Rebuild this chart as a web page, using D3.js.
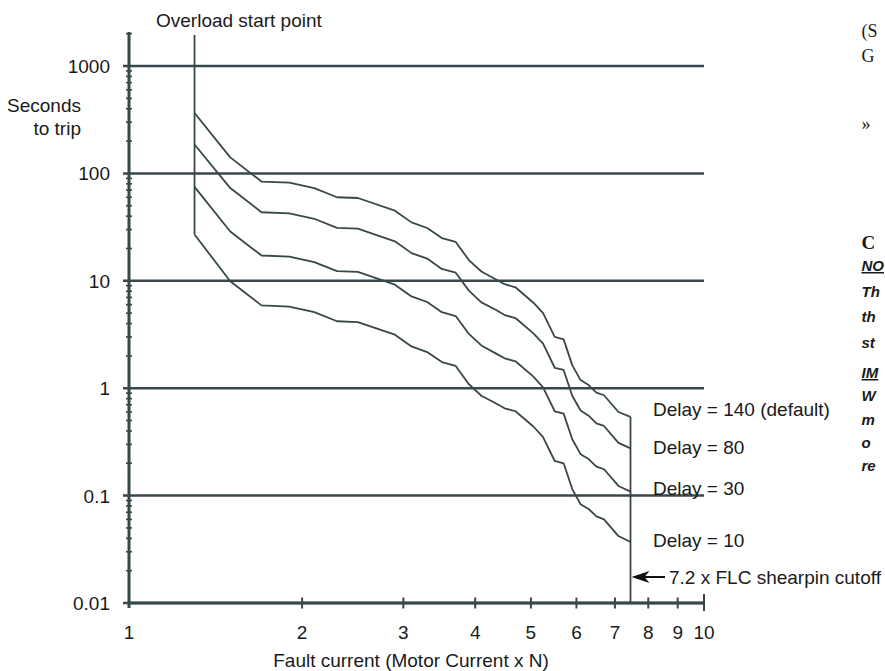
<!DOCTYPE html>
<html>
<head>
<meta charset="utf-8">
<script src="https://cdn.jsdelivr.net/npm/d3@7"></script>
<style>
  body { margin: 0; background: #fff; }
  svg text { font-family: "Liberation Sans", Arial, sans-serif; fill: #1a1a1a; }
</style>
</head>
<body>
<div id="chart"></div>
<script>
// fault current (x FLC) at each vertex of the trip curves
var current = [1.3, 1.5, 1.7, 1.9, 2.1, 2.3, 2.5, 2.9, 3.1, 3.3, 3.5, 3.7, 3.9, 4.1, 4.35, 4.5, 4.7, 5.05, 5.25, 5.5, 5.7, 5.9, 6.1, 6.3, 6.5, 6.7, 7.1, 7.45];

// seconds to trip for each delay setting
var delay140 = [365, 141, 84, 82, 73, 60, 59, 45, 35, 31, 25, 23, 15.6, 12.2, 10.3, 9.3, 8.7, 6.25, 5.0, 3.0, 2.85, 1.64, 1.19, 1.07, 0.91, 0.86, 0.60, 0.54];
var delay80 = [186, 73, 43.5, 42.5, 37.8, 31.1, 30.6, 23.3, 18.1, 16.1, 12.9, 11.9, 8.1, 6.3, 5.35, 4.8, 4.5, 3.24, 2.6, 1.55, 1.48, 0.85, 0.62, 0.555, 0.47, 0.445, 0.31, 0.275];
var delay30 = [75, 28.8, 17.2, 16.8, 14.9, 12.3, 12.1, 9.2, 7.15, 6.35, 5.1, 4.7, 3.2, 2.5, 2.1, 1.9, 1.78, 1.28, 1.02, 0.61, 0.58, 0.335, 0.243, 0.219, 0.186, 0.176, 0.123, 0.109];
var delay10 = [27, 9.9, 5.9, 5.75, 5.1, 4.2, 4.13, 3.15, 2.45, 2.17, 1.75, 1.61, 1.09, 0.85, 0.72, 0.65, 0.61, 0.44, 0.35, 0.21, 0.2, 0.115, 0.083, 0.075, 0.064, 0.06, 0.042, 0.037];

var delayNames = ["Delay = 140 (default)", "Delay = 80", "Delay = 30", "Delay = 10"];

var yMajor = [0.01, 0.1, 1, 10, 100, 1000];
var yLabels = ["0.01", "0.1", "1", "10", "100", "1000"];
var xTicks = [2, 3, 4, 5, 6, 7, 8, 9];
var xLabels = [1, 2, 3, 4, 5, 6, 7, 8, 9, 10];

var overloadStart = 1.3, overloadTop = 1945;
var cutoff = 7.45;
var yAxisTop = 2070;

var color = "#37474a";
var fs = "19px";

var svg = d3.select("#chart")
  .append("svg")
    .attr("width", 885)
    .attr("height", 671);

var x = d3.scaleLog().domain([1, 10]).range([129, 704]);
var y = d3.scaleLog().domain([0.01, 1000]).range([603, 66]);

// horizontal grid lines at each decade
svg.append("g")
  .selectAll("line")
  .data(yMajor)
  .enter()
  .append("line")
    .attr("x1", x(1) - 6)
    .attr("x2", x(10))
    .attr("y1", function (d) { return y(d); })
    .attr("y2", function (d) { return y(d); })
    .attr("stroke", color)
    .attr("stroke-width", 2.5);

// minor ticks on the y axis
var yMinor = [];
yMajor.slice(0, 5).forEach(function (m) {
  for (var k = 2; k <= 9; k++) yMinor.push(m * k);
});
yMinor.push(2000);
svg.append("g")
  .selectAll("line")
  .data(yMinor)
  .enter()
  .append("line")
    .attr("x1", x(1) - 3)
    .attr("x2", x(1) + 3)
    .attr("y1", function (d) { return y(d); })
    .attr("y2", function (d) { return y(d); })
    .attr("stroke", color)
    .attr("stroke-width", 1.6);

// y axis line
svg.append("line")
  .attr("x1", x(1)).attr("x2", x(1))
  .attr("y1", y(yAxisTop)).attr("y2", y(0.01) + 5)
  .attr("stroke", color)
  .attr("stroke-width", 3);

// x axis line and ticks
svg.append("line")
  .attr("x1", x(1)).attr("x2", x(10))
  .attr("y1", y(0.01)).attr("y2", y(0.01))
  .attr("stroke", color)
  .attr("stroke-width", 3);

svg.append("g")
  .selectAll("line")
  .data(xTicks)
  .enter()
  .append("line")
    .attr("x1", function (d) { return x(d); })
    .attr("x2", function (d) { return x(d); })
    .attr("y1", y(0.01) - 5.5)
    .attr("y2", y(0.01) + 5.5)
    .attr("stroke", color)
    .attr("stroke-width", 2);

svg.append("line")
  .attr("x1", x(10)).attr("x2", x(10))
  .attr("y1", y(0.01) - 9).attr("y2", y(0.01) + 8)
  .attr("stroke", color)
  .attr("stroke-width", 2);

// tick labels
svg.append("g")
  .selectAll("text")
  .data(yMajor)
  .enter()
  .append("text")
    .attr("x", 110)
    .attr("y", function (d) { return y(d) + 7; })
    .attr("text-anchor", "end")
    .style("font-size", fs)
    .text(function (d, i) { return yLabels[i]; });

svg.append("g")
  .selectAll("text")
  .data(xLabels)
  .enter()
  .append("text")
    .attr("x", function (d) { return x(d); })
    .attr("y", y(0.01) + 36)
    .attr("text-anchor", "middle")
    .style("font-size", fs)
    .text(function (d) { return d; });

// axis titles
svg.append("text")
  .attr("x", 81).attr("y", 112)
  .attr("text-anchor", "end")
  .style("font-size", fs)
  .text("Seconds");
svg.append("text")
  .attr("x", 81).attr("y", 135)
  .attr("text-anchor", "end")
  .style("font-size", fs)
  .text("to trip");

svg.append("text")
  .attr("x", 411).attr("y", 667)
  .attr("text-anchor", "middle")
  .style("font-size", fs)
  .text("Fault current (Motor Current x N)");

// overload start line
svg.append("line")
  .attr("x1", x(overloadStart)).attr("x2", x(overloadStart))
  .attr("y1", y(overloadTop)).attr("y2", y(delay10[0]))
  .attr("stroke", color)
  .attr("stroke-width", 1.8);
svg.append("text")
  .attr("x", 156).attr("y", 27)
  .style("font-size", fs)
  .text("Overload start point");

// shearpin cutoff line
svg.append("line")
  .attr("x1", x(cutoff)).attr("x2", x(cutoff))
  .attr("y1", y(delay140[delay140.length - 1])).attr("y2", y(0.01))
  .attr("stroke", color)
  .attr("stroke-width", 1.8);

// trip curves
var line = d3.line()
  .x(function (d, i) { return x(current[i]); })
  .y(function (d) { return y(d); });

svg.append("g")
  .selectAll("path")
  .data([delay140, delay80, delay30, delay10])
  .enter()
  .append("path")
    .attr("d", line)
    .attr("fill", "none")
    .attr("stroke", color)
    .attr("stroke-width", 1.8)
    .attr("stroke-linejoin", "round");

// delay labels
var labelY = [416, 454, 495, 547];
svg.append("g")
  .selectAll("text")
  .data(delayNames)
  .enter()
  .append("text")
    .attr("x", 653)
    .attr("y", function (d, i) { return labelY[i]; })
    .style("font-size", fs)
    .text(function (d) { return d; });

// cutoff arrow
var ay = 577;
svg.append("line")
  .attr("x1", x(cutoff) + 10).attr("x2", 665)
  .attr("y1", ay).attr("y2", ay)
  .attr("stroke", "#111")
  .attr("stroke-width", 2);
svg.append("path")
  .attr("d", "M" + (x(cutoff) + 1) + "," + ay + "l18,-6l-5,6l5,6z")
  .attr("fill", "#111");
svg.append("text")
  .attr("x", 669).attr("y", ay + 7)
  .style("font-size", fs)
  .text("7.2 x FLC shearpin cutoff");

// fragments of the neighbouring page column at the right edge
var fragSerif = [["(S", 37], ["G", 62], ["»", 130]];
var fragNote = [["NO", 271, true], ["Th", 297], ["th", 322], ["st", 348], ["IM", 378, true], ["W", 401], ["m", 425], ["o", 448], ["re", 471]];

var side = svg.append("g");

side.selectAll("text.serif")
  .data(fragSerif)
  .enter()
  .append("text")
    .attr("class", "serif")
    .attr("y", function (d) { return d[1]; })
    .style("font-family", "'Liberation Serif', 'DejaVu Serif', serif")
    .style("font-size", "18px")
    .text(function (d) { return d[0]; });

side.append("text")
  .attr("y", 249)
  .style("font-family", "'Liberation Serif', 'DejaVu Serif', serif")
  .style("font-size", "19px")
  .style("font-weight", "bold")
  .text("C");

side.selectAll("text.note")
  .data(fragNote)
  .enter()
  .append("text")
    .attr("class", "note")
    .attr("y", function (d) { return d[1]; })
    .style("font-family", "'Liberation Sans Narrow', 'Liberation Sans', sans-serif")
    .style("font-size", "15px")
    .style("font-weight", "bold")
    .style("font-style", "italic")
    .style("text-decoration", function (d) { return d[2] ? "underline" : "none"; })
    .text(function (d) { return d[0]; });

// one shared left edge, as far right as the widest fragment allows
var widest = 0;
side.selectAll("text").each(function () {
  widest = Math.max(widest, this.getComputedTextLength());
});
side.selectAll("text").attr("x", Math.min(872, 884 - widest));
</script>
</body>
</html>
